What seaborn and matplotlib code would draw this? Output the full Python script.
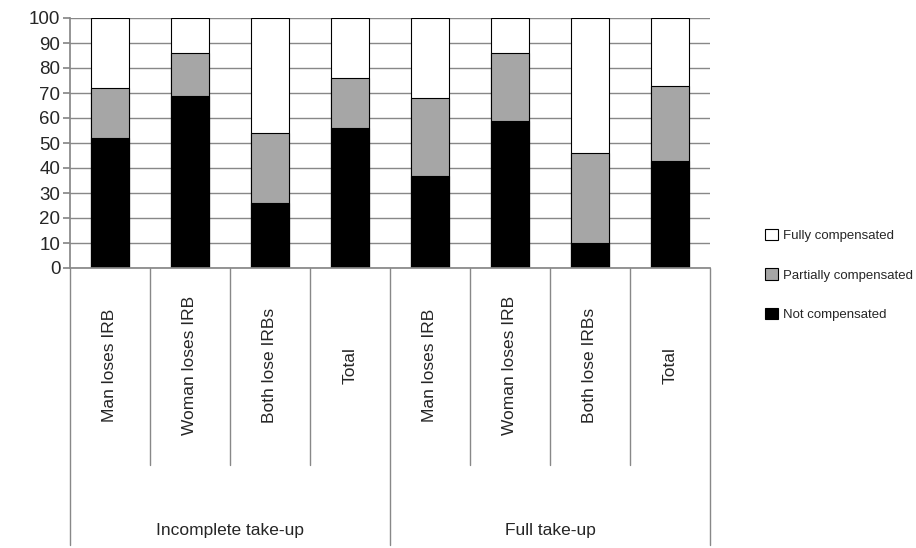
import matplotlib
matplotlib.use("Agg")
import matplotlib.pyplot as plt
import seaborn as sns
import pandas as pd
from matplotlib.patches import Patch

sns.set_theme(style="white")
plt.rcParams["font.family"] = ["Liberation Sans", "DejaVu Sans"]

groups = ["Incomplete take-up", "Full take-up"]
cats = ["Man loses IRB", "Woman loses IRB", "Both lose IRBs", "Total"]
not_comp = [52, 69, 26, 56, 37, 59, 10, 43]
partial = [20, 17, 28, 20, 31, 27, 36, 30]
fully = [28, 14, 46, 24, 32, 14, 54, 27]

labels = [f"{g}|{c}" for g in groups for c in cats]
df = pd.DataFrame({"x": labels, "nc": not_comp, "p": partial, "f": fully})
df["top"] = df.nc + df.p + df.f
df["mid"] = df.nc + df.p

fig = plt.figure(figsize=(9.16, 5.48), dpi=100)
ax = fig.add_axes([70 / 916, 1 - 268 / 548, 640 / 916, 250 / 548])
ax.set_axisbelow(True)
ax.yaxis.grid(True, color="#888888", linewidth=1)
kw = dict(edgecolor="black", linewidth=0.8, width=0.47, ax=ax, order=labels)
sns.barplot(data=df, x="x", y="top", color="white", **kw)
sns.barplot(data=df, x="x", y="mid", color="#a6a6a6", **kw)
sns.barplot(data=df, x="x", y="nc", color="black", **kw)

ax.set_ylim(0, 100)
ax.set_xlim(-0.5, 7.5)
ax.set_yticks(range(0, 101, 10))
ax.tick_params(axis="y", labelsize=13.5, length=5, direction="out", left=True, color="#888888", pad=2)
ax.set_xticks([])
ax.set_xlabel("")
ax.set_ylabel("")
for s in ["top", "right"]:
    ax.spines[s].set_visible(False)
for s in ["left", "bottom"]:
    ax.spines[s].set_color("#888888")

tr = ax.get_xaxis_transform()
for i in range(9):
    y0 = -1.108 if i in (0, 4, 8) else -0.788
    ax.plot([i - 0.5, i - 0.5], [0, y0], transform=tr, color="#888888", lw=1, clip_on=False)
for i, lab in enumerate(labels):
    ax.text(i, -0.39, lab.split("|")[1], transform=tr, rotation=90, ha="center", va="center", fontsize=12.5)
for j, g in enumerate(groups):
    ax.text(1.5 + 4 * j, -1.05, g, transform=tr, ha="center", va="center", fontsize=12.5)

handles = [Patch(facecolor=c, edgecolor="black", linewidth=0.8) for c in ["white", "#a6a6a6", "black"]]
fig.legend(handles, ["Fully compensated", "Partially compensated", "Not compensated"],
           loc="center left", bbox_to_anchor=(765 / 916, 1 - 275 / 548), frameon=False,
           fontsize=9.5, handlelength=0.95, handleheight=0.95, labelspacing=2.0, handletextpad=0.4,
           borderpad=0, borderaxespad=0)
fig.savefig("out.png", dpi=100)
